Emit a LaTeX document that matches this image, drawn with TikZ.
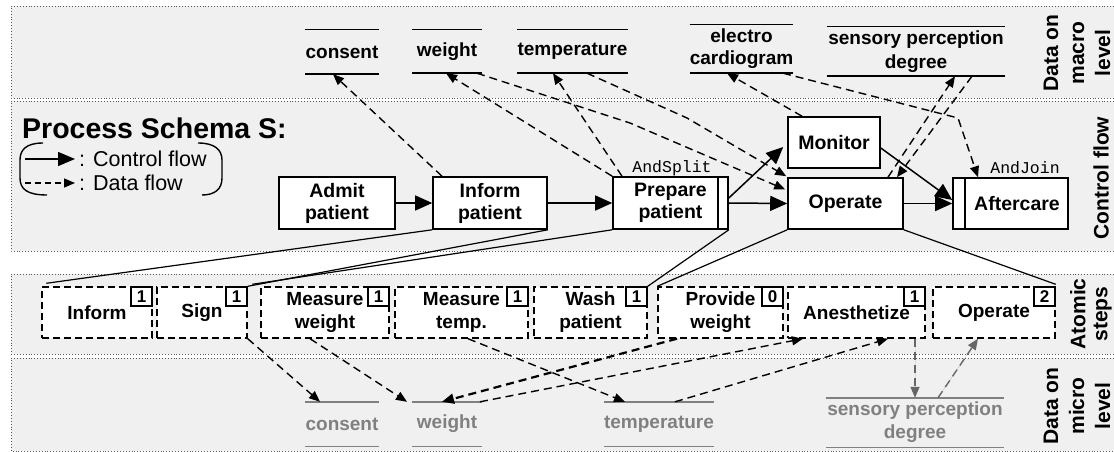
\documentclass[tikz,border=0pt]{standalone}
\usepackage{fontspec}
\setmainfont{Liberation Sans}
\newfontfamily\monofont{Liberation Mono}
\usetikzlibrary{arrows.meta}
\definecolor{bandgray}{HTML}{F0F0F0}
\definecolor{microgray}{HTML}{808080}
\definecolor{arrowgray}{HTML}{666666}
\begin{document}
\begin{tikzpicture}[x=1pt,y=-1pt,
  task/.style={draw, fill=white, line width=1.6pt, minimum height=51pt, inner sep=0pt, align=center, font=\bfseries\fontsize{19.5}{22}\selectfont},
  atom/.style={draw, fill=white, line width=1.4pt, dash pattern=on 7pt off 4pt, minimum height=51pt, inner sep=0pt, align=center, font=\bfseries\fontsize{19}{23}\selectfont},
  numbox/.style={draw, fill=white, line width=1.4pt, solid, minimum width=21pt, minimum height=19pt, inner sep=0pt, font=\bfseries\fontsize{17}{17}\selectfont},
  dobj/.style={inner sep=0pt, align=center, font=\bfseries\fontsize{19}{23}\selectfont},
  dobjm/.style={dobj, text=microgray},
  dline/.style={line width=1.4pt},
  dlinem/.style={line width=1.4pt, draw=microgray},
  ctrl/.style={line width=1.5pt, -{Triangle[length=17pt,width=15pt]}},
  data/.style={line width=1.4pt, dash pattern=on 8pt off 5pt, -{Triangle[length=11pt,width=9pt]}},
  datag/.style={data, draw=arrowgray, fill=arrowgray},
  mapline/.style={line width=1.2pt},
  bandline/.style={draw=black!65, line width=0.9pt, dotted},
  bandlabel/.style={rotate=90, align=center, inner sep=0pt, font=\bfseries\fontsize{21}{26}\selectfont},
]
\useasboundingbox (0,0) rectangle (1114,452);
% bands
\fill[bandgray] (11,6) rectangle (1114,98);
\draw[bandline] (1114,6) -- (11,6) -- (11,98) -- (1114,98);
\fill[bandgray] (11,101) rectangle (1114,251);
\draw[bandline] (1114,101) -- (11,101) -- (11,251) -- (1114,251);
\fill[bandgray] (11,274) rectangle (1114,354);
\draw[bandline] (1114,274) -- (11,274) -- (11,354) -- (1114,354);
\fill[bandgray] (11,358) rectangle (1114,451);
\draw[bandline] (1114,358) -- (11,358) -- (11,451) -- (1114,451);

% band labels
\node[bandlabel] (lblmacro) at (1077,53) {Data on\\macro\\level};
\node[bandlabel] (lblctrl) at (1101,178) {Control flow};
\node[bandlabel, font=\bfseries\fontsize{21}{22}\selectfont] (lblatom) at (1091,314) {Atomic\\steps};
\node[bandlabel] (lblmicro) at (1077,406) {Data on\\micro\\level};

% title and legend
\node[anchor=base west, inner sep=0pt, font=\bfseries\fontsize{28.5}{30}\selectfont] (title) at (22,138) {Process Schema S:};
\draw[line width=1.4pt] (43,143) .. controls (26,143) and (20,150) .. (20,160) -- (20,178) .. controls (20,189) and (27,195) .. (47,195);
\draw[line width=1.4pt] (198,143) .. controls (215,143) and (222,150) .. (222,160) -- (222,178) .. controls (222,189) and (215,195) .. (202,195);
\coordinate (lc1) at (25,159);
\coordinate (lc2) at (75,159);
\coordinate (ld1) at (25,183);
\coordinate (ld2) at (75,183);
\draw[line width=1.5pt, -{Triangle[length=17pt,width=14pt]}] (lc1) -- (lc2);
\draw[line width=1.4pt, dash pattern=on 6pt off 4pt, -{Triangle[length=11pt,width=9pt]}] (ld1) -- (ld2);
\node[anchor=base west, inner sep=0pt, font=\fontsize{21.5}{24}\selectfont] (lt1) at (79,166.5) {: Control flow};
\node[anchor=base west, inner sep=0pt, font=\fontsize{21.5}{24}\selectfont] (lt2) at (79,190.5) {: Data flow};

% macro data objects
\node[dobj, minimum width=70pt, minimum height=44pt] (consentM) at (342,52) {consent};
\node[dobj, minimum width=70pt, minimum height=43pt] (weightM) at (447,51.5) {weight};
\node[dobj, minimum width=103pt, minimum height=43pt] (tempM) at (572.5,51.5) {temperature};
\node[dobj, minimum width=97pt, minimum height=48pt, font=\bfseries\fontsize{19}{22}\selectfont] (ecgM) at (741.5,49) {electro\\cardiogram};
\node[dobj, minimum width=178pt, minimum height=49pt, font=\bfseries\fontsize{19}{24}\selectfont] (sensM) at (916,51.5) {sensory perception\\degree};
\foreach \d in {consentM,weightM,tempM,ecgM,sensM}{
  \draw[dline] (\d.north west) -- (\d.north east);
  \draw[dline] (\d.south west) -- (\d.south east);
}

% micro data objects
\node[dobjm, minimum width=70pt, minimum height=44pt] (consentm) at (342,424) {consent};
\node[dobjm, minimum width=70pt, minimum height=44pt] (weightm) at (447,424) {weight};
\node[dobjm, minimum width=102pt, minimum height=44pt] (tempm) at (659,424) {temperature};
\node[dobjm, minimum width=178pt, minimum height=49pt] (sensm) at (915,422.5) {sensory perception\\degree};
\foreach \d in {consentm,weightm,tempm,sensm}{
  \draw[dlinem] (\d.north west) -- (\d.north east);
  \draw[dlinem] (\d.south west) -- (\d.south east);
}

% control flow tasks
\node[task, minimum width=116pt, minimum height=52pt] (admit) at (337,203) {Admit\\patient};
\node[task, minimum width=114pt, minimum height=52pt] (informP) at (490,203) {Inform\\patient};
\node[task, minimum width=115pt, minimum height=52pt] (prepare) at (670.5,203) {Prepare\\patient};
\draw[line width=1.6pt] ([xshift=-11pt]prepare.north east) -- ([xshift=-11pt]prepare.south east);
\node[task, minimum width=92pt] (monitor) at (834,142.5) {Monitor};
\node[task, minimum width=115pt] (operate) at (845.5,203.5) {Operate};
\node[task, minimum width=115pt] (aftercare) at (1010.5,203.5) {\hspace*{13pt}Aftercare};
\draw[line width=1.6pt] ([xshift=13pt]aftercare.north west) -- ([xshift=13pt]aftercare.south west);
\node[inner sep=0pt, font=\monofont\fontsize{16.5}{17}\selectfont] (andsplit) at (672,168) {AndSplit};
\node[inner sep=0pt, font=\monofont\fontsize{16.5}{17}\selectfont] (andjoin) at (1025,168) {AndJoin};

% control flow edges
\draw[ctrl] (admit.east) -- (informP.west);
\draw[ctrl] (informP.east) -- (prepare.west);
\draw[ctrl] (prepare.east) -- (operate.west);
\draw[ctrl] ([yshift=5pt]prepare.east) -- ([xshift=-4pt,yshift=-4.5pt]monitor.west);
\draw[ctrl] ([yshift=-5.5pt]monitor.east) -- ([yshift=3.5pt]aftercare.west);
\draw[ctrl] (operate.east) -- (aftercare.west);

% macro data flow
\draw[data] ([xshift=-48pt]informP.north) -- ([xshift=-9pt]consentM.south);
\draw[data] (prepare.north west) -- ([xshift=-1pt]weightM.south);
\draw[data] ([xshift=-48.5pt]prepare.north) -- ([xshift=-19.5pt]tempM.south);
\draw[data] ([xshift=30pt]weightM.south) -- (630,123) -- ([xshift=-2pt,yshift=14pt]operate.west);
\draw[data] ([xshift=14.5pt]tempM.south) -- (687,118) -- ([xshift=-1pt,yshift=1pt]operate.north west);
\draw[data] ([xshift=-32pt]monitor.north) -- ([xshift=-14.5pt]ecgM.south);
\draw[data] ([xshift=41.5pt]ecgM.south) -- (958,118) -- ([xshift=-32.5pt]aftercare.north);
\draw[data] ([xshift=42.5pt]operate.north) -- ([xshift=39pt]sensM.south);
\draw[data] ([xshift=56pt]sensM.south) -- ([xshift=51.5pt]operate.north);

% atomic steps
\node[atom, minimum width=110pt] (aInform) at (97,312.5) {\raisebox{-3pt}{Inform}};
\node[atom, minimum width=90pt] (aSign) at (202,312.5) {\raisebox{-3pt}{Sign}};
\node[atom, minimum width=128pt] (aMeasW) at (325,312.5) {Measure\\weight};
\node[atom, minimum width=133pt] (aMeasT) at (461.5,312.5) {Measure\\temp.};
\node[atom, minimum width=113pt] (aWash) at (590.5,312.5) {Wash\\patient};
\node[atom, minimum width=125pt] (aProvide) at (720.5,312.5) {Provide\\weight};
\node[atom, minimum width=137pt] (aAnest) at (856.5,312.5) {\raisebox{-2pt}{Anesthetize}};
\node[atom, minimum width=122pt] (aOperate) at (994,312.5) {\raisebox{-2pt}{Operate}};
\node[numbox, anchor=north east] (nInform) at (aInform.north east) {1};
\node[numbox, anchor=north east] (nSign) at (aSign.north east) {1};
\node[numbox, anchor=north east] (nMeasW) at (aMeasW.north east) {1};
\node[numbox, anchor=north east] (nMeasT) at (aMeasT.north east) {1};
\node[numbox, anchor=north east] (nWash) at (aWash.north east) {1};
\node[numbox, anchor=north east] (nProvide) at (aProvide.north east) {0};
\node[numbox, anchor=north east] (nAnest) at (aAnest.north east) {1};
\node[numbox, anchor=north east] (nOperate) at (aOperate.north east) {2};

% mapping lines
\draw[mapline] (informP.south west) -- ([xshift=5pt,yshift=3pt]aInform.north west);
\draw[mapline] (informP.south east) -- (aSign.north east);
\draw[mapline] (prepare.south west) -- ([xshift=-8pt,yshift=2pt]aMeasW.north west);
\draw[mapline] (prepare.south east) -- (aWash.north east);
\draw[mapline] (operate.south west) -- (aProvide.north west);
\draw[mapline] (operate.south east) -- ([yshift=2pt]aOperate.north east);

% micro data flow
\draw[data] (aSign.south east) -- ([xshift=-22pt]consentm.north);
\draw[data] ([xshift=-15pt]aMeasW.south) -- ([xshift=-40pt]weightm.north);
\draw[data] ([xshift=6.5pt]aMeasT.south) -- ([xshift=-34pt]tempm.north);
\draw[data, line width=2.2pt, -{Triangle[length=12pt,width=10pt]}] ([xshift=-43.5pt]aProvide.south) -- ([xshift=-5pt]weightm.north);
\draw[data] ([xshift=33pt]weightm.north) -- ([xshift=-53.5pt]aAnest.south);
\draw[data] ([xshift=16pt]tempm.north) -- ([xshift=31.5pt]aAnest.south);
\draw[datag] ([xshift=58.5pt]aAnest.south) -- (sensm.north);
\draw[datag] ([xshift=23pt]sensm.north) -- ([xshift=-16pt]aOperate.south);
\end{tikzpicture}
\end{document}
